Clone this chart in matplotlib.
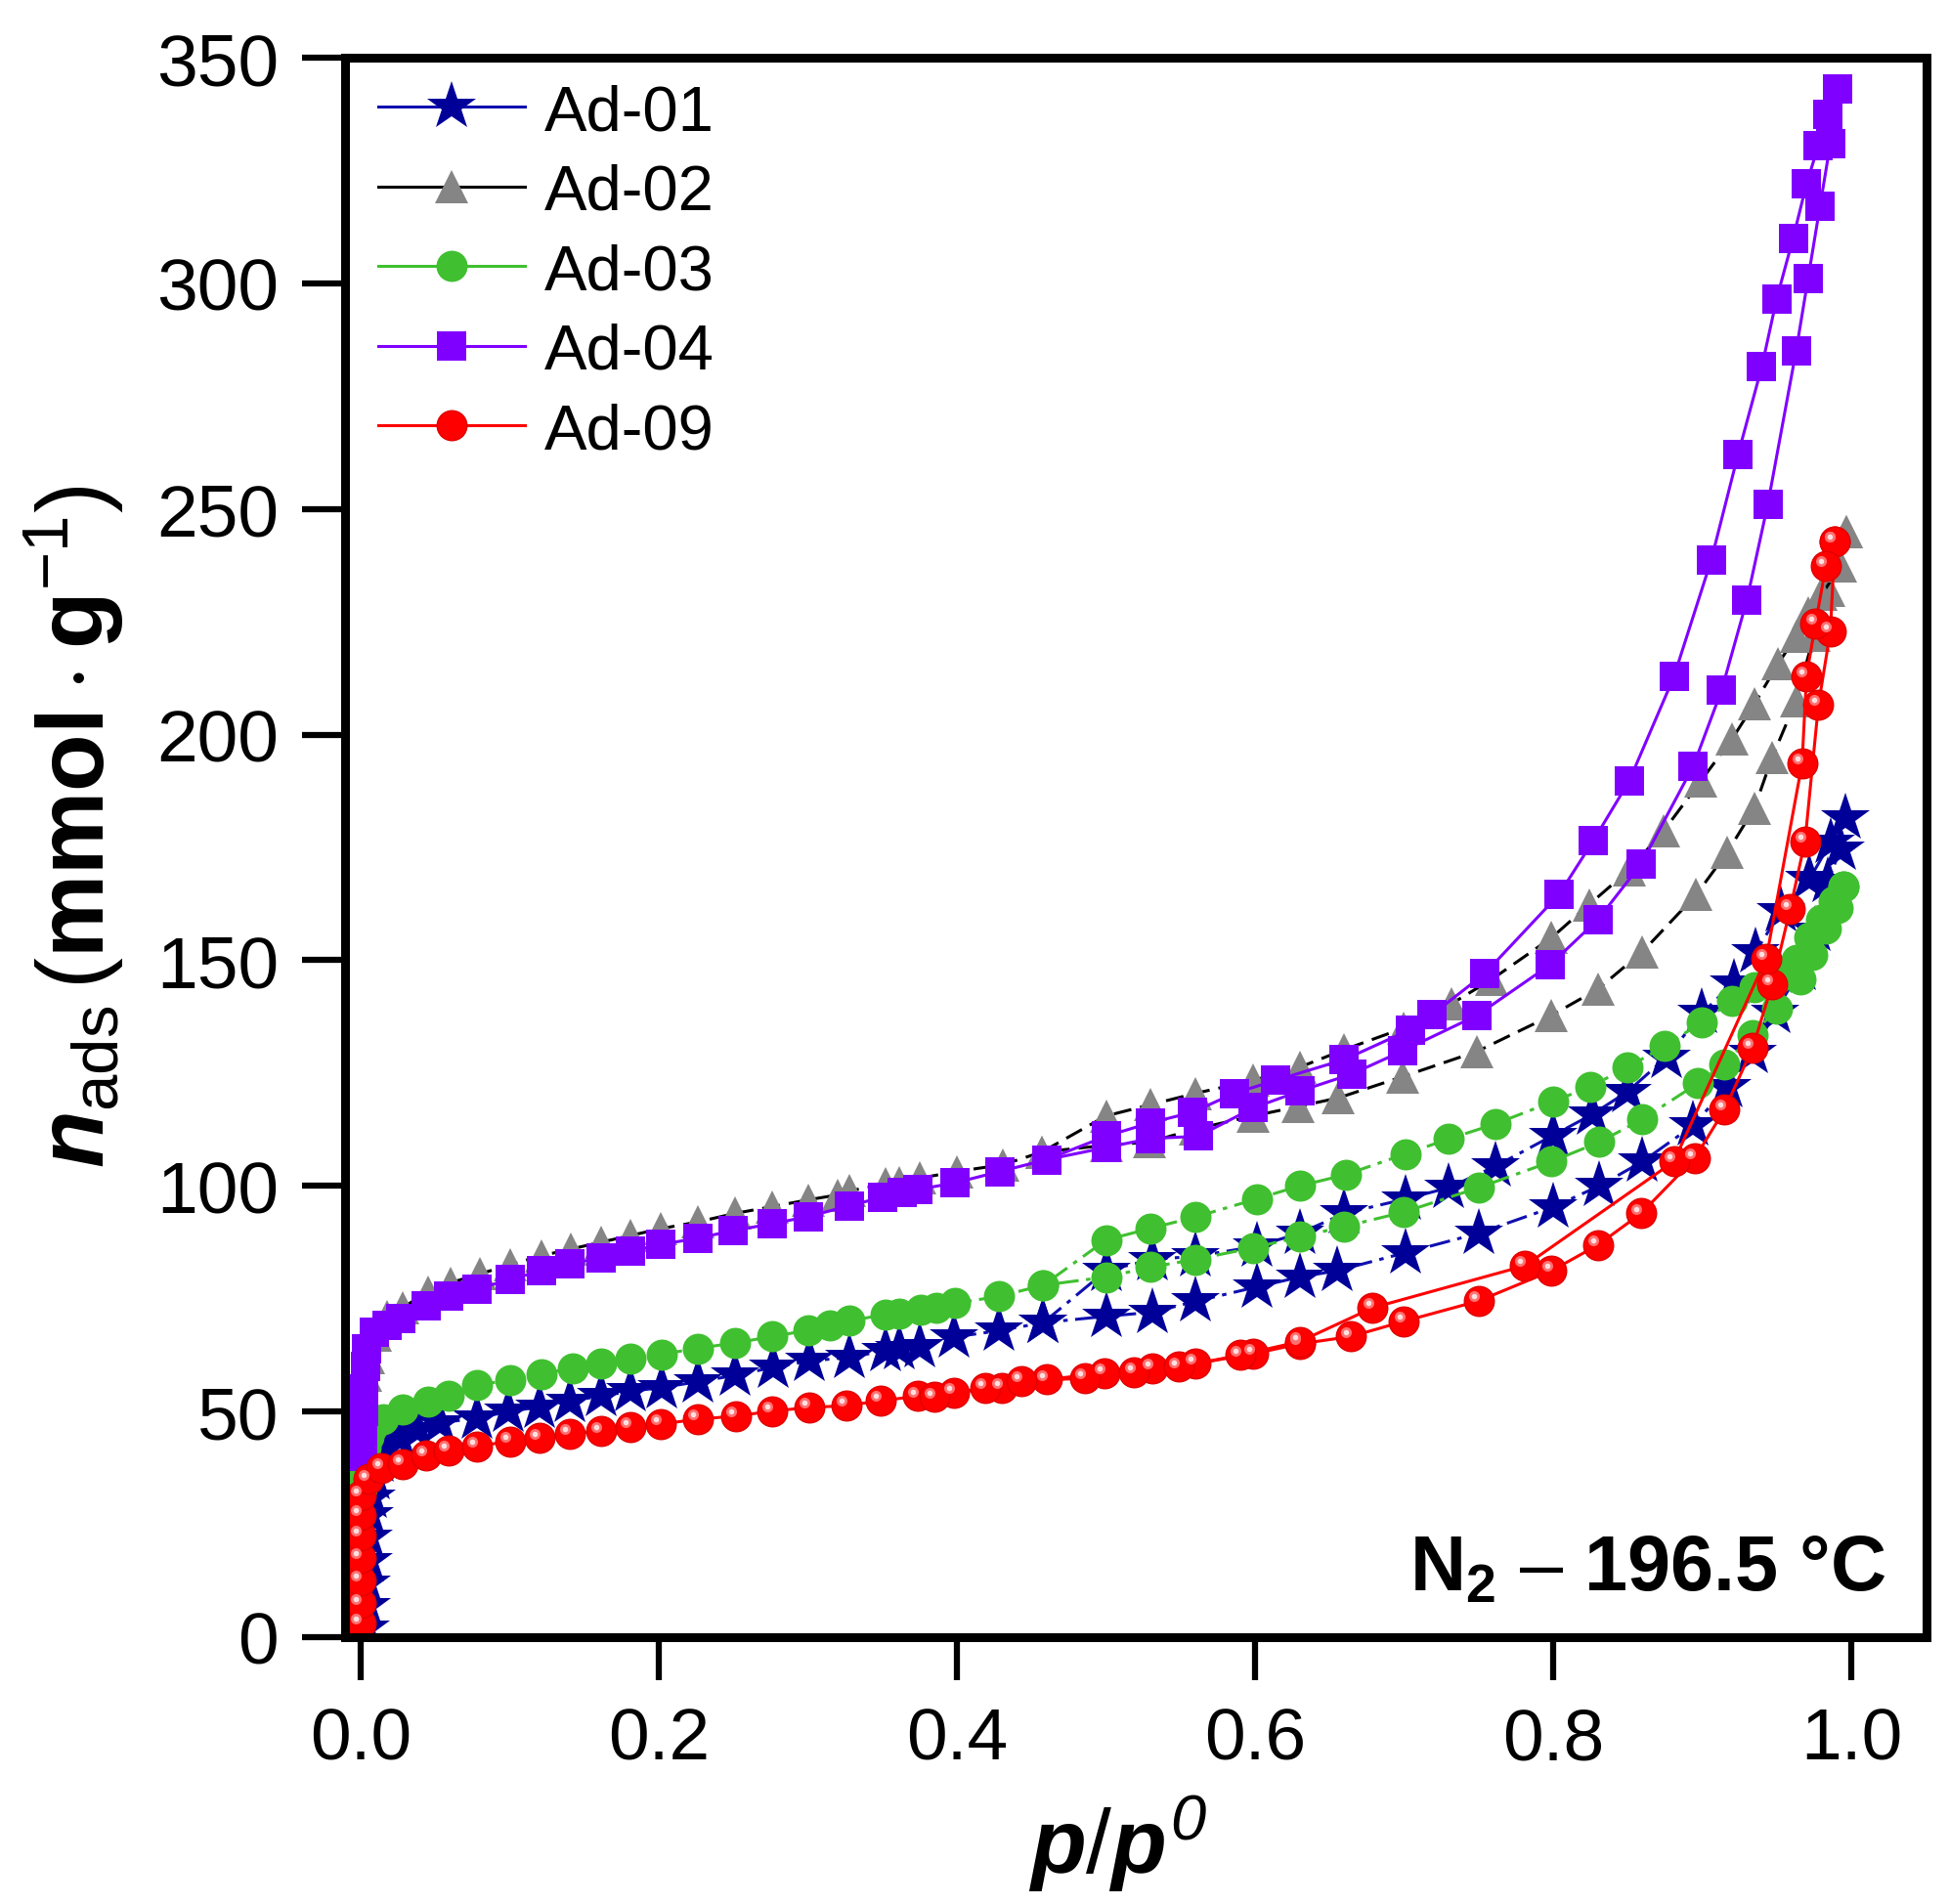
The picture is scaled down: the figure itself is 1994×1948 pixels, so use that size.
import numpy as np
import matplotlib
matplotlib.use("Agg")
import matplotlib.pyplot as plt
from matplotlib.lines import Line2D
from matplotlib.transforms import offset_copy

plt.rcParams['font.family'] = ['Liberation Sans', 'DejaVu Sans']
plt.rcParams['mathtext.fontset'] = 'custom'
plt.rcParams['mathtext.rm'] = 'Liberation Sans'
plt.rcParams['mathtext.it'] = 'Liberation Sans:bold:italic'
plt.rcParams['mathtext.bf'] = 'Liberation Sans:bold'
plt.rcParams['mathtext.sf'] = 'Liberation Sans:italic'

# ---- data (p/p0, n_ads) : adsorption branch and desorption branch ----
ad01_ads_x = [0.003, 0.004, 0.004, 0.005, 0.005, 0.006, 0.007, 0.009, 0.012, 0.018, 0.026, 0.038,
              0.053, 0.078, 0.099, 0.120, 0.140, 0.161, 0.181, 0.202, 0.226, 0.251, 0.277, 0.301,
              0.328, 0.352, 0.361, 0.375, 0.398, 0.428, 0.458, 0.500, 0.531, 0.560, 0.601, 0.630,
              0.655, 0.701, 0.750, 0.800, 0.831, 0.860, 0.894, 0.917, 0.934, 0.949, 0.966, 0.976,
              0.984, 0.993]
ad01_ads_y = [2, 7, 12, 17, 22, 27, 31, 35, 39, 42, 44, 46,
              47.5, 48.5, 50, 51, 52.3, 53.4, 54.5, 55.3, 56.6, 58, 59.8, 61.2,
              62, 63.5, 63.8, 64.3, 66.5, 67.9, 69.7, 71.1, 72, 74.4, 77.6, 79.8,
              81.2, 85.2, 89.5, 95.3, 100, 105.4, 113.4, 122, 129.6, 138.5, 148, 156.6,
              167.5, 174.6]
ad01_des_x = [0.996, 0.986, 0.972, 0.953, 0.936, 0.921, 0.900, 0.876, 0.850, 0.826, 0.800, 0.761,
              0.730, 0.701, 0.660, 0.630, 0.601, 0.560, 0.531, 0.500, 0.458]
ad01_des_y = [181.5, 176, 168, 161, 151.9, 145, 138.3, 128.5, 120.9, 115.8, 111.2, 104.3,
              99.6, 97.1, 93.9, 89.5, 86.6, 84.4, 83.7, 81.2, 69.7]

ad02_ads_x = [0.001, 0.002, 0.002, 0.003, 0.005, 0.010, 0.018, 0.028, 0.045, 0.060, 0.080, 0.100,
              0.121, 0.141, 0.161, 0.181, 0.201, 0.226, 0.251, 0.276, 0.300, 0.320, 0.328, 0.352,
              0.361, 0.375, 0.400, 0.431, 0.457, 0.500, 0.529, 0.560, 0.599, 0.629, 0.656, 0.699,
              0.749, 0.799, 0.830, 0.860, 0.896, 0.917, 0.935, 0.947, 0.963, 0.975, 0.985, 0.997]
ad02_ads_y = [40, 47, 53, 58, 62, 67, 71, 73, 76.5, 78.5, 80.5, 82.5,
              84.5, 86, 87.5, 89, 90.5, 92, 93.9, 95.4, 96.9, 98, 98.9, 100.4,
              100.8, 101.7, 103.2, 104.7, 107.5, 109, 109.7, 112.6, 115.5, 117.6, 119.5, 124.2,
              129.8, 137.8, 143.6, 151.9, 164.5, 174, 183.7, 195, 207.5, 222, 232, 245]
ad02_des_x = [0.997, 0.993, 0.980, 0.971, 0.963, 0.951, 0.935, 0.920, 0.899, 0.874, 0.851, 0.824,
              0.799, 0.759, 0.732, 0.700, 0.660, 0.630, 0.599, 0.560, 0.530, 0.500, 0.457]
ad02_des_y = [245, 237.3, 231, 227, 221.8, 215.7, 206.8, 199, 189.7, 178.6, 170, 162.3,
              155, 145.8, 140.4, 135, 130.2, 126.3, 123.4, 120.5, 118, 115.5, 107.5]

ad03_ads_x = [0.0005, 0.001, 0.002, 0.003, 0.005, 0.008, 0.015, 0.028, 0.045, 0.059, 0.078, 0.100,
              0.121, 0.142, 0.161, 0.181, 0.202, 0.226, 0.251, 0.276, 0.300, 0.315, 0.328, 0.352,
              0.361, 0.376, 0.386, 0.399, 0.428, 0.458, 0.500, 0.530, 0.560, 0.599, 0.630, 0.660,
              0.700, 0.750, 0.799, 0.831, 0.860, 0.897, 0.915, 0.934, 0.950, 0.966, 0.974, 0.983,
              0.991, 0.995]
ad03_ads_y = [33, 36, 39, 42, 44.5, 46.5, 48.3, 50.5, 52.2, 53.6, 55.8, 57,
              58.3, 59.6, 60.7, 61.8, 62.7, 64, 65.2, 66.6, 68, 69, 70.1, 71.5,
              71.7, 72.6, 73, 74, 75.5, 78, 79.8, 82, 83.7, 86.3, 88.7, 91,
              94.2, 99.6, 105.4, 109.7, 114.8, 122.7, 127, 133.5, 139.3, 145.8, 151.2, 157,
              161.6, 166.4]
ad03_des_x = [0.995, 0.988, 0.980, 0.972, 0.963, 0.950, 0.935, 0.920, 0.900, 0.875, 0.850, 0.825,
              0.800, 0.761, 0.730, 0.701, 0.661, 0.630, 0.601, 0.560, 0.530, 0.500, 0.458]
ad03_des_y = [166.4, 163, 159, 155, 150, 146, 144, 141, 136.3, 131, 126.3, 122,
              118.7, 113.7, 110.4, 107.1, 102.5, 100, 97.1, 93.1, 90.6, 88, 78]

ad04_ads_x = [0.001, 0.001, 0.002, 0.002, 0.003, 0.004, 0.009, 0.018, 0.027, 0.044, 0.059, 0.078,
              0.100, 0.121, 0.140, 0.161, 0.181, 0.201, 0.226, 0.250, 0.276, 0.300, 0.328, 0.350,
              0.363, 0.374, 0.399, 0.429, 0.460, 0.500, 0.530, 0.562, 0.599, 0.630, 0.665, 0.699,
              0.749, 0.798, 0.830, 0.859, 0.894, 0.913, 0.930, 0.944, 0.963, 0.971, 0.979, 0.986,
              0.991]
ad04_ads_y = [40, 45, 50, 55, 60, 64, 67.5, 69, 70.5, 73.5, 75.5, 77.2,
              79.2, 81.2, 82.7, 84.1, 85.5, 87, 88.4, 90.1, 91.6, 93.2, 95.6, 97.5,
              98.5, 99.2, 100.7, 103.2, 105.8, 108.5, 110.5, 111, 117.3, 121, 124.8, 129.9,
              137.8, 149, 159, 171.3, 193, 209.8, 229.8, 251, 285, 301, 317, 331,
              343]
ad04_des_x = [0.991, 0.984, 0.978, 0.970, 0.961, 0.950, 0.940, 0.924, 0.906, 0.881, 0.851, 0.827,
              0.804, 0.754, 0.719, 0.704, 0.660, 0.614, 0.586, 0.558, 0.530, 0.500, 0.460]
ad04_des_y = [343, 337.5, 330.6, 322, 310, 296.6, 281.5, 262, 238.6, 212.8, 189.7, 176.5,
              164.6, 147, 138, 134.6, 128, 123.4, 120.5, 116.3, 114, 111, 105.8]

ad09_ads_x = [0.000, 0.000, 0.000, 0.000, 0.000, 0.000, 0.000, 0.005, 0.014, 0.028, 0.044, 0.059,
              0.078, 0.100, 0.120, 0.140, 0.161, 0.181, 0.201, 0.226, 0.252, 0.276, 0.301, 0.326,
              0.349, 0.374, 0.398, 0.430, 0.460, 0.499, 0.531, 0.560, 0.599, 0.630, 0.664, 0.700,
              0.750, 0.799, 0.830, 0.859, 0.895, 0.915, 0.934, 0.947, 0.959, 0.969, 0.978, 0.986,
              0.989]
ad09_ads_y = [3, 7.5, 12.5, 17.5, 22.5, 27, 31.5, 35, 37.5, 38.3, 40.3, 41.3,
              42.3, 43.4, 44.1, 45.1, 45.6, 46.6, 47.2, 48.3, 49, 50.1, 50.9, 51.3,
              52.4, 53.4, 54.2, 55.3, 57.1, 58.5, 59.6, 60.6, 62.8, 65, 66.6, 70,
              74.5, 81.2, 86.9, 93.9, 106.1, 116.9, 130.7, 144.7, 161.3, 176.4, 206.6, 222.9,
              242.8]
ad09_des_x = [0.989, 0.983, 0.976, 0.970, 0.967, 0.943, 0.881, 0.781, 0.679, 0.630, 0.590, 0.549,
              0.519, 0.486, 0.443, 0.419, 0.385]
ad09_des_y = [242.8, 237.3, 224.6, 213, 193.6, 150.4, 105.4, 82.3, 73, 65.5, 62.5, 59.9,
              58.8, 57.4, 56.7, 55.3, 53.2]

labels = ['Ad-01', 'Ad-02', 'Ad-03', 'Ad-04', 'Ad-09']

fig = plt.figure(figsize=(19.94, 19.49), dpi=100)
ax = fig.add_axes([353 / 1994, 1 - 1676 / 1949, 1618 / 1994, 1616 / 1949])

lw = 2.2
dashdot = (0, (7, 2.5, 1.5, 2.5))
# marker styles
st01 = dict(color='#1010B0', lw=lw, marker='*', ms=38, mfc='#000099', mec='#000099', mew=0)
st02 = dict(color='black', lw=lw, marker='^', ms=24, mfc='#858585', mec='#858585', mew=0)
st03 = dict(color='#40C030', lw=lw, marker='o', ms=23, mfc='#40C030', mec='#40C030', mew=0)
st04 = dict(color='#8000FF', lw=lw, marker='s', ms=21, mfc='#8000FF', mec='#8000FF', mew=0)
st09 = dict(color='#FF0000', lw=lw, marker='o', ms=22, mfc='#FF0000', mec='#E00000', mew=1)

ax.plot(ad01_ads_x, ad01_ads_y, ls=dashdot, **st01)
ax.plot(ad01_des_x, ad01_des_y, ls=dashdot, **st01)
ax.plot(ad02_ads_x, ad02_ads_y, ls=(0, (6, 3)), **st02)
ax.plot(ad02_des_x, ad02_des_y, ls=(0, (6, 3)), **st02)
ax.plot(ad03_ads_x, ad03_ads_y, ls=dashdot, **st03)
ax.plot(ad03_des_x, ad03_des_y, ls=dashdot, **st03)
ax.plot(ad04_ads_x, ad04_ads_y, ls='-', **st04)
ax.plot(ad04_des_x, ad04_des_y, ls='-', **st04)
ax.plot(ad09_ads_x, ad09_ads_y, ls='-', **st09)
ax.plot(ad09_des_x, ad09_des_y, ls='-', **st09)
# soft glint on the red spheres
shine = offset_copy(ax.transData, fig=fig, x=-3.5, y=3.5, units='points')
for xs, ys in [(ad09_ads_x, ad09_ads_y), (ad09_des_x, ad09_des_y)]:
    ax.plot(xs, ys, ls='none', marker='o', ms=8, mfc='#FF7070', mec='none', transform=shine)
    ax.plot(xs, ys, ls='none', marker='o', ms=4, mfc='#FFE0E0', mec='none', transform=shine)

ax.set_xlim(-0.0105, 1.0505)
ax.set_ylim(0, 350)
ax.set_xticks([0.0, 0.2, 0.4, 0.6, 0.8, 1.0])
ax.set_yticks(np.arange(0, 351, 50))
for s in ax.spines.values():
    s.set_linewidth(6.5)
ax.tick_params(axis='both', direction='out', length=32, width=4.5, labelsize=54)
ax.tick_params(axis='x', pad=19)
ax.tick_params(axis='y', pad=17)

# legend (solid lines)
handles = [Line2D([], [], **st) for st in (st01, st02, st03, st04, st09)]
ax.legend(handles, labels, loc='upper left', bbox_to_anchor=(387 / 1994, 1 - 86 / 1949),
          bbox_transform=fig.transFigure, frameon=False, fontsize=47, borderpad=0,
          borderaxespad=0, handlelength=2.3, handletextpad=0.3, labelspacing=0.33)

# axis labels
fig.text(1052 / 1994, 1 - 1917 / 1949, r'$\mathit{p/p}^{\mathsf{0}}$', fontsize=67,
         ha='left', va='baseline')
fig.text(107 / 1994, 1 - 846 / 1949,
         r'$\mathit{n}_{\mathrm{ads}}\,(\mathbf{mmol\cdot g}^{\mathrm{-1}})$',
         fontsize=69, rotation=90, rotation_mode='anchor', ha='center', va='baseline')

fig.text(1929 / 1994, 1 - 1627 / 1949, r'$\mathbf{N}_{\mathbf{2}}$ $\mathrm{–}$ 196.5 °C',
         fontsize=57, fontweight='bold', ha='right', va='baseline')

fig.savefig('out.png', dpi=100)
